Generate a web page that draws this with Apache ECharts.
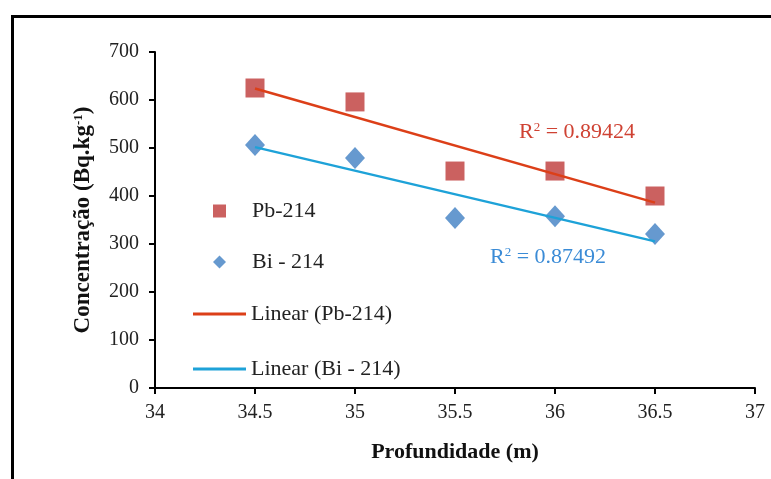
<!DOCTYPE html>
<html>
<head>
<meta charset="utf-8">
<script src="https://cdn.jsdelivr.net/npm/echarts@6/dist/echarts.min.js"></script>
<style>html,body{margin:0;padding:0;background:#fff}#c{width:771px;height:479px}</style>
</head>
<body>
<div id="c"></div>
<script>
// Data
const depths = [34.5, 35, 35.5, 36, 36.5];
const pb214 = [625, 596, 452, 452, 400];
const bi214 = [506, 479, 354, 358, 321];
const seriesNames = ['Pb-214', 'Bi - 214', 'Linear (Pb-214)', 'Linear (Bi - 214)'];
const r2Values = ['0.89424', '0.87492'];
const xTicks = [34, 34.5, 35, 35.5, 36, 36.5, 37];
const yTicks = [0, 100, 200, 300, 400, 500, 600, 700];

function linFit(xs, ys) {
  const n = xs.length;
  const mx = xs.reduce((a, b) => a + b, 0) / n;
  const my = ys.reduce((a, b) => a + b, 0) / n;
  let sxy = 0, sxx = 0;
  for (let i = 0; i < n; i++) { sxy += (xs[i] - mx) * (ys[i] - my); sxx += (xs[i] - mx) ** 2; }
  const b = sxy / sxx, a = my - b * mx;
  const x0 = xs[0], x1 = xs[n - 1];
  return [[x0, a + b * x0], [x1, a + b * x1]];
}

const font = 'Liberation Serif';
const legendText = { fontFamily: font, fontSize: 22, color: '#222' };
const chart = echarts.init(document.getElementById('c'));
chart.setOption({
  animation: false,
  textStyle: { fontFamily: font },
  grid: { left: 155, right: 16, top: 52, bottom: 91 },
  xAxis: {
    type: 'value', min: 34, max: 37, interval: 0.5,
    name: 'Profundidade (m)', nameLocation: 'middle', nameGap: 53,
    nameTextStyle: { fontFamily: font, fontWeight: 'bold', fontSize: 22, color: '#111' },
    axisLine: { show: true, onZero: false, lineStyle: { color: '#000', width: 2 } },
    axisTick: { show: true, inside: false, length: 6, lineStyle: { color: '#000', width: 2 } },
    axisLabel: { fontFamily: font, fontSize: 20, color: '#222', margin: 15,
      formatter: v => xTicks.includes(v) ? String(v) : '' },
    splitLine: { show: false }
  },
  yAxis: {
    type: 'value', min: 0, max: 700, interval: 100,
    name: 'Concentração (Bq.kg{sup|-1})', nameLocation: 'middle', nameGap: 60, nameRotate: 90,
    nameTextStyle: { fontFamily: font, fontWeight: 'bold', fontSize: 23, color: '#111',
      rich: { sup: { fontFamily: font, fontWeight: 'bold', fontSize: 13, color: '#111', verticalAlign: 'top', padding: [0, 0, 10, 0] } } },
    axisLine: { show: true, lineStyle: { color: '#000', width: 2 } },
    axisTick: { show: true, inside: false, length: 6, lineStyle: { color: '#000', width: 2 } },
    axisLabel: { fontFamily: font, fontSize: 20, color: '#222', margin: 16,
      formatter: v => yTicks.includes(v) ? String(v) : '' },
    splitLine: { show: false }
  },
  legend: [
    {
      orient: 'vertical', left: 208, top: 195, itemWidth: 13, itemHeight: 13, itemGap: 29,
      textStyle: Object.assign({ padding: [0, 0, 0, 21] }, legendText),
      data: [{ name: seriesNames[0], icon: 'rect' }, { name: seriesNames[1], icon: 'diamond' }]
    },
    {
      orient: 'vertical', left: 188, top: 298, itemWidth: 53, itemHeight: 3, itemGap: 33,
      textStyle: legendText,
      data: [{ name: seriesNames[2], icon: 'rect' }, { name: seriesNames[3], icon: 'rect' }]
    }
  ],
  series: [
    { name: seriesNames[2], type: 'line', data: linFit(depths, pb214), symbol: 'none',
      lineStyle: { color: '#dc3f18', width: 2.5 }, itemStyle: { color: '#dc3f18' }, z: 3 },
    { name: seriesNames[3], type: 'line', data: linFit(depths, bi214), symbol: 'none',
      lineStyle: { color: '#1ea2d8', width: 2.5 }, itemStyle: { color: '#1ea2d8' }, z: 3 },
    { name: seriesNames[0], type: 'scatter', symbol: 'rect', symbolSize: 19,
      data: depths.map((d, i) => [d, pb214[i]]), itemStyle: { color: '#cb6160', opacity: 1 }, z: 2 },
    { name: seriesNames[1], type: 'scatter', symbol: 'diamond', symbolSize: [20, 22],
      data: depths.map((d, i) => [d, bi214[i]]), itemStyle: { color: '#6699cf', opacity: 1 }, z: 2 }
  ],
  graphic: [
    { type: 'rect', left: 10, top: 14, shape: { width: 800, height: 520 },
      style: { fill: 'none', stroke: '#000', lineWidth: 3 }, silent: true },
    { type: 'text', left: 519, top: 121,
      style: { text: 'R{sup|2} = ' + r2Values[0], font: '22px "Liberation Serif"', fill: '#cf4233',
        rich: { sup: { fontSize: 13, fontFamily: font, fill: '#cf4233', verticalAlign: 'top', padding: [0, 0, 10, 0] } } } },
    { type: 'text', left: 490, top: 246,
      style: { text: 'R{sup|2} = ' + r2Values[1], font: '22px "Liberation Serif"', fill: '#3a8bd6',
        rich: { sup: { fontSize: 13, fontFamily: font, fill: '#3a8bd6', verticalAlign: 'top', padding: [0, 0, 10, 0] } } } }
  ]
});
</script>
</body>
</html>
